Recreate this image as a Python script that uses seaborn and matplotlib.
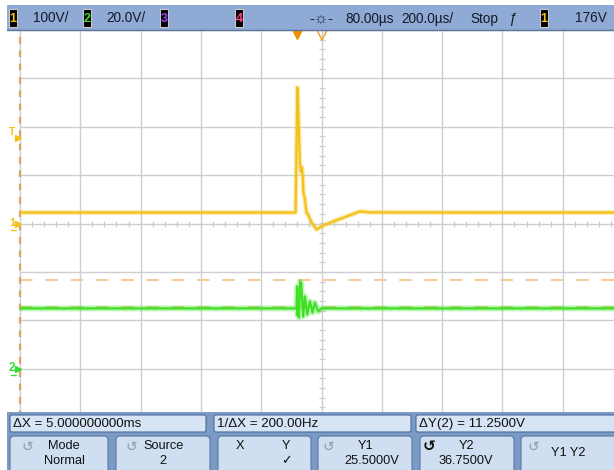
import numpy as np
import pandas as pd
import matplotlib
matplotlib.use("Agg")
import matplotlib.pyplot as plt
import matplotlib.patheffects as pe
from matplotlib.patches import Rectangle, FancyBboxPatch
import seaborn as sns

# Channel 1 (yellow), volts vs time relative to trigger (µs)
ch1_time_us = [-920, -500, -200, -6, 0, 5, 8, 12, 15, 18, 20, 25, 30, 35, 47, 64, 80, 118, 163, 207, 240, 600, 1080]
ch1_volts = [22.7, 22.7, 22.7, 22.7, 281, 194, 126, 107, 116, 95, 64, 50, 23, 19, 2, -12.4, -6, 4, 14.5, 25, 23, 22.7, 22.7]

# Channel 2 (green), volts vs time relative to trigger (µs)
ch2_time_us = [-920, -500, -8.3, -2.7, -0.7, 0.7, 2.7, 5, 9.3, 12.6, 19.2, 24.9, 32.5, 41.5, 50.4, 58, 69, 80, 600, 1080]
ch2_volts = [24.9, 24.9, 24.9, 24.9, 34.0, 22.0, 28.6, 21.2, 36.0, 35.2, 21.6, 29.8, 22.4, 27.8, 23.2, 27.3, 23.6, 24.9, 24.9, 24.9]

# scope settings
ch1_volts_per_div = 100.0
ch2_volts_per_div = 20.0
ch1_ground_div = 0.0
ch2_ground_div = -3.0
time_per_div_us = 200.0
delay_us = 80.0
trigger_level_v = 176.0
cursor_y1_v = 25.5
cursor_y2_v = 36.75

# texts
header_texts = ["100V/", "20.0V/", "80.00µs", "200.0µs/", "Stop", "176V"]
readout_texts = ["ΔX = 5.000000000ms", "1/ΔX = 200.00Hz", "ΔY(2) = 11.2500V"]
softkey_texts = [("Mode", "Normal"), ("Source", "2"), ("X", "Y"), ("Y1", "25.5000V"), ("Y2", "36.7500V"), ("Y1 Y2", "")]

# ---------------- styling ----------------
sns.set_style("white")
plt.rcParams["font.family"] = ["Liberation Sans", "DejaVu Sans"]

W, H = 614, 470
YELLOW = "#f3c21a"
GREEN = "#3ee024"
CURSOR = "#f5c48e"
ORANGE = "#f29100"
GRID = "#cfcfcf"

fig = plt.figure(figsize=(W / 100, H / 100), dpi=100)
fig.patch.set_facecolor("white")

ax = fig.add_axes([20 / W, 1 - 417 / H, 603 / W, 387 / H])
xmin = delay_us - 5 * time_per_div_us
xmax = delay_us + 5 * time_per_div_us
ax.set_xlim(xmin, xmax)
ax.set_ylim(-4, 4)
for s in ax.spines.values():
    s.set_visible(False)
ax.set_xticks([])
ax.set_yticks([])

# graticule
for k in range(11):
    ax.axvline(xmin + k * time_per_div_us, color=GRID, lw=1.0, zorder=0, clip_on=False)
for k in range(-4, 5):
    ax.axhline(k, color=GRID, lw=1.0, zorder=0, clip_on=False)
yt = np.arange(-4, 4.001, 0.2)
ax.plot(np.full_like(yt, delay_us), yt, ls="none", marker="_", ms=4, mew=0.9, color="#cdcdcd", zorder=0.5)
xt = np.arange(xmin, xmax + 0.1, time_per_div_us / 5)
ax.plot(xt, np.zeros_like(xt), ls="none", marker="|", ms=4, mew=0.9, color="#cdcdcd", zorder=0.5)

# cursors
for cv in (cursor_y1_v, cursor_y2_v):
    ax.axhline(cv / ch2_volts_per_div + ch2_ground_div, color=CURSOR, lw=1.3,
               ls=(0, (7, 7)), zorder=1)
ax.axvline(xmin, color="#d9a36a", lw=1.6, ls=(0, (3, 3)), zorder=1.2, clip_on=False)

# traces
df1 = pd.DataFrame({"t": ch1_time_us,
                    "div": np.array(ch1_volts) / ch1_volts_per_div + ch1_ground_div,
                    "ch": "1"})
df2 = pd.DataFrame({"t": ch2_time_us,
                    "div": np.array(ch2_volts) / ch2_volts_per_div + ch2_ground_div,
                    "ch": "2"})
df = pd.concat([df2, df1], ignore_index=True)
sns.lineplot(data=df, x="t", y="div", hue="ch", palette={"1": YELLOW, "2": GREEN},
             estimator=None, sort=False, legend=False, lw=1.6, ax=ax, zorder=3)
for ln in ax.get_lines()[-2:]:
    c = ln.get_color()
    w = 4.2 if c == GREEN else 3.6
    ln.set_path_effects([pe.Stroke(linewidth=w, foreground=c, alpha=0.35), pe.Normal()])
ax.set_xlabel("")
ax.set_ylabel("")

# top markers: trigger point and delay reference
ax.plot([0], [3.92], marker="v", ms=6.5, color=ORANGE, clip_on=False, zorder=4)
ax.plot([delay_us], [3.9], marker="v", ms=7, mfc="none", mec="#f3a640", mew=1.2,
        clip_on=False, zorder=4)


def to_px(t, d):
    x, y = ax.transData.transform((t, d))
    return x, H - y


# ---------------- overlay (screen furniture) ----------------
ov = fig.add_axes([0, 0, 1, 1], zorder=10)
ov.set_xlim(0, W)
ov.set_ylim(H, 0)
ov.axis("off")

# left side markers
_, ty = to_px(xmin, trigger_level_v / ch1_volts_per_div + ch1_ground_div)
ov.text(12.5, ty - 6, "T", color=YELLOW, fontsize=7.5, fontweight="bold", ha="center", va="center")
ov.plot([17.5], [ty], marker=">", ms=4.5, color=YELLOW)
_, g1 = to_px(xmin, ch1_ground_div)
ov.text(12, g1 - 1, "1", color=YELLOW, fontsize=8, fontweight="bold", ha="center", va="center")
ov.plot([17.5], [g1], marker=">", ms=4.5, color=YELLOW)
ov.plot([10.5, 15.5], [g1 + 6, g1 + 6], color=YELLOW, lw=1)
_, g2 = to_px(xmin, ch2_ground_div)
ov.text(12, g2 - 1, "2", color="#33dd33", fontsize=8.5, fontweight="bold", ha="center", va="center")
ov.plot([17.5], [g2], marker=">", ms=4.5, color="#33dd33")
ov.plot([10.5, 15.5], [g2 + 6, g2 + 6], color="#33dd33", lw=1)

# top status bar
ov.add_patch(Rectangle((7, 5), W - 7, 25, fc="#8eaad5", ec="none"))
ov.plot([7, W], [30, 30], color="#5f7598", lw=1)


def chbox(x, digit, color):
    ov.add_patch(Rectangle((x, 9), 8, 18, fc="black", ec="#c8c8c8", lw=0.8))
    ov.text(x + 4, 18.5, digit, color=color, fontsize=9, fontweight="bold", ha="center", va="center")


chbox(9, "1", YELLOW)
chbox(83, "2", "#3ee024")
chbox(160, "3", "#a040ff")
chbox(235, "4", "#ff3f8a")
chbox(540, "1", YELLOW)
tk = dict(fontsize=9.8, color="#151a26", va="center", ha="left")
ov.text(33, 18.5, header_texts[0], **tk)
ov.text(106, 18.5, header_texts[1], **tk)
ov.text(321, 18.5, "-☼-", fontsize=11, color="#1b2030", ha="center", va="center")
ov.text(345, 18.5, header_texts[2], **tk)
ov.text(401, 18.5, header_texts[3], **tk)
ov.text(470, 18.5, header_texts[4], **tk)
ov.text(512, 18.5, "ƒ", fontsize=10, color="#151a26", ha="center", va="center", style="italic")
ov.text(575, 18.5, header_texts[5], **tk)

# bottom panel
ov.add_patch(Rectangle((7, 412), W - 7, 60, fc="#7c9ac6", ec="none"))
fields = [(10, 206), (214, 411), (416, 618)]
for (x0, x1), txt in zip(fields, readout_texts):
    ov.add_patch(FancyBboxPatch((x0, 415), x1 - x0, 17,
                                boxstyle="round,pad=0,rounding_size=2",
                                fc="#d6e4f5", ec="#4d6d99", lw=0.8))
    ov.text(x0 + 3, 424, txt, fontsize=9.6, color="#111", ha="left", va="center")

buttons = [(10, 108), (116, 210), (218, 311), (318, 412), (420, 514), (521, 618)]
for (x0, x1) in buttons:
    ov.add_patch(FancyBboxPatch((x0, 436), x1 - x0, 38,
                                boxstyle="round,pad=0,rounding_size=4",
                                fc="#cfdef1", ec="#56789f", lw=0.8))
bt = dict(fontsize=9.2, color="#111", ha="center", va="center")
icon = dict(fontsize=10, color="#8b9bb0", ha="center", va="center")
# Mode / Normal
ov.text(27, 447, "↺", **icon)
ov.text(64, 446, softkey_texts[0][0], **bt)
ov.text(64, 461, softkey_texts[0][1], **bt)
# Source / 2
ov.text(131, 447, "↺", **icon)
ov.text(164, 446, softkey_texts[1][0], **bt)
ov.text(163, 461, softkey_texts[1][1], **bt)
# X Y
ov.text(240, 446, softkey_texts[2][0], **bt)
ov.text(286, 446, softkey_texts[2][1], **bt)
ov.text(286, 461, "✓", **bt)
# Y1
ov.text(328, 447, "↺", **icon)
ov.text(366, 446, softkey_texts[3][0], **bt)
ov.text(372, 461, softkey_texts[3][1], **bt)
# Y2
ov.text(429, 447, "↺", fontsize=11, color="#111", fontweight="bold", ha="center", va="center")
ov.text(467, 446, softkey_texts[4][0], **bt)
ov.text(466, 461, softkey_texts[4][1], **bt)
# Y1 Y2
ov.text(533, 447, "↺", **icon)
ov.text(568, 453, softkey_texts[5][0], **bt)

fig.savefig("out.png", dpi=100)
